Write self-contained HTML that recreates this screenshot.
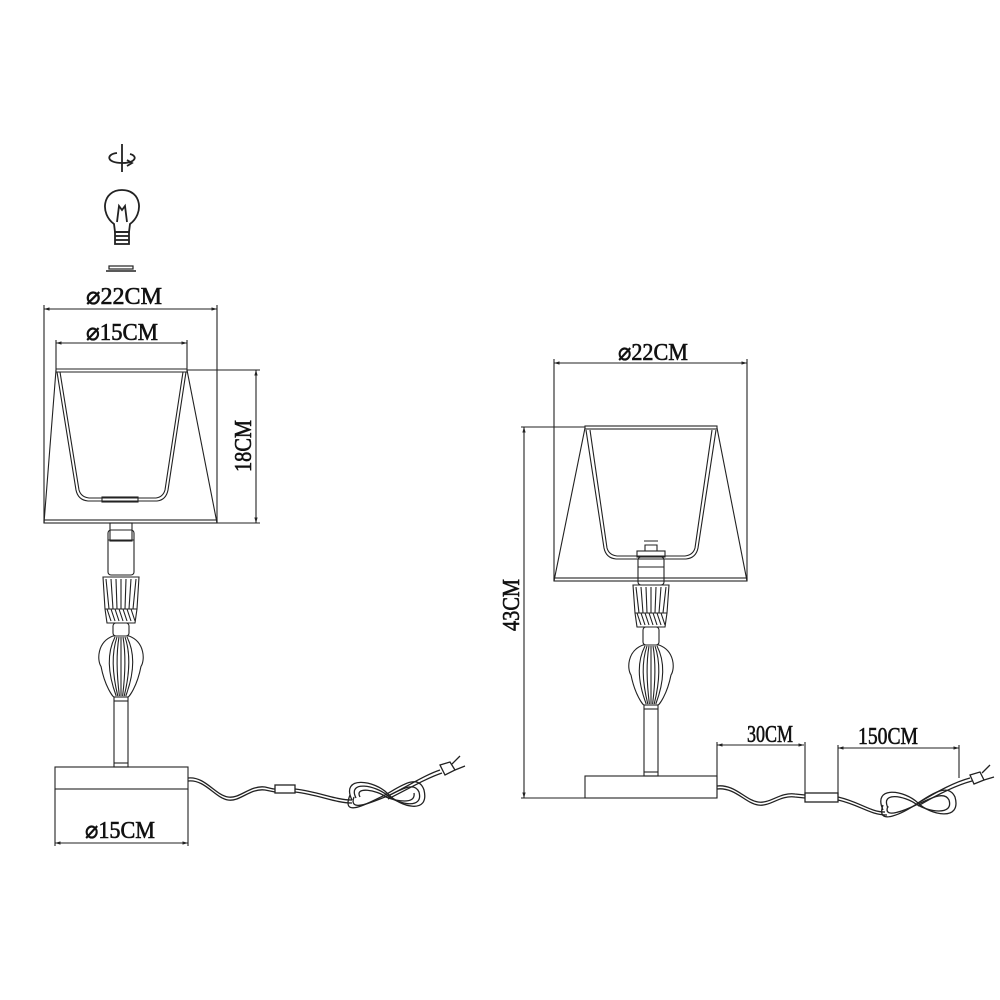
<!DOCTYPE html>
<html><head><meta charset="utf-8"><style>
html,body{margin:0;padding:0;background:#fff;width:1000px;height:1000px;overflow:hidden}
svg text{font-family:"Liberation Serif",serif;font-size:24px;fill:#111;stroke:#111;stroke-width:0.6}
</style></head><body>
<svg id="s" width="1000" height="1000" viewBox="0 0 1000 1000" xmlns="http://www.w3.org/2000/svg" fill="none" stroke="#222" stroke-width="1.1">
<defs>
<marker id="a" viewBox="0 0 10 10" refX="10" refY="5" markerWidth="7" markerHeight="5" orient="auto-start-reverse"><path d="M0,2 L10,5 L0,8z" fill="#222" stroke="none"/></marker>
</defs>
<g stroke-width="1.8">
<line x1="122" y1="144" x2="122" y2="172"/>
<path d="M117,153 C106,154 106,163 122,163 C136,163 138,156 130,154"/>
<path d="M127,160 l5,3 -5,3" />
<path d="M114,224 C100,214 102,190 122,190 C142,190 144,214 130,224 L129,232 L115,232 Z"/>
<path d="M117,222 L119,206 L122,210 L125,206 L127,222"/>
<rect x="115" y="232" width="14" height="12"/>
<line x1="115" y1="236" x2="129" y2="236"/><line x1="115" y1="240" x2="129" y2="240"/>
<rect x="109" y="266" width="24" height="3" stroke-width="1.2"/>
<line x1="106" y1="271" x2="136" y2="271" stroke-width="1.6"/>
</g>
<line x1="44" y1="309" x2="217" y2="309" marker-start="url(#a)" marker-end="url(#a)"/>
<line x1="44" y1="305" x2="44" y2="523"/><line x1="217" y1="305" x2="217" y2="523"/>
<text x="124" y="304" text-anchor="middle" textLength="76" lengthAdjust="spacingAndGlyphs">⌀22CM</text>
<line x1="56" y1="343" x2="187" y2="343" marker-start="url(#a)" marker-end="url(#a)"/>
<line x1="56" y1="340" x2="56" y2="372"/><line x1="187" y1="340" x2="187" y2="372"/>
<text x="122" y="340" text-anchor="middle" textLength="72" lengthAdjust="spacingAndGlyphs">⌀15CM</text>
<line x1="187" y1="370" x2="260" y2="370"/><line x1="217" y1="523" x2="260" y2="523"/>
<line x1="256" y1="370" x2="256" y2="523" marker-start="url(#a)" marker-end="url(#a)"/>
<text transform="translate(251,446) rotate(-90)" text-anchor="middle" textLength="52" lengthAdjust="spacingAndGlyphs">18CM</text>
<rect x="56" y="369" width="131" height="3" stroke-width="1"/>
<path d="M56,370 L44,523 M187,370 L217,523"/>
<rect x="44" y="520" width="173" height="3"/>
<path d="M57,372 L76,490 Q78,500 88,501 L157,501 Q166,500 168,490 L186,372"/>
<path d="M60,372 L79,490 Q81,497 89,498 L156,498 Q163,497 165,490 L183,372"/>
<rect x="102" y="497" width="36" height="5"/>
<rect x="55" y="767" width="133" height="22"/>
<line x1="55" y1="789" x2="55" y2="846"/><line x1="188" y1="789" x2="188" y2="846"/>
<line x1="55" y1="843" x2="188" y2="843" marker-start="url(#a)" marker-end="url(#a)"/>
<text x="120" y="838" text-anchor="middle" textLength="70" lengthAdjust="spacingAndGlyphs">⌀15CM</text>
<g stroke-width="1.3">
<path d="M188,778 C205,776 215,795 228,797 C240,799 250,785 265,787 C270,788 272,789 275,789"/>
<path d="M188,781 C205,779 215,798 228,800 C240,802 250,788 265,790 L275,792"/>
<rect x="275" y="785" width="20" height="8"/>
<path d="M295,789 C320,792 335,800 352,800 M295,792 C320,795 335,803 352,803"/>
<path d="M352,800 C340,775 375,780 388,794 C400,807 430,815 424,790 C418,772 398,788 385,795 C370,802 340,820 350,795"/>
<path d="M356,798 C347,780 376,785 388,796 C398,804 424,810 419,792 C414,780 398,792 385,797 C372,802 348,813 354,797"/>
<path d="M360,797 C354,786 377,790 386,797 C396,801 416,805 414,793"/>
<path d="M388,796 C410,785 425,775 440,770 M388,799 C410,788 427,778 442,773"/>
<path d="M440,765 L450,762 L455,770 L445,775 Z"/>
<path d="M452,764 L460,756 M455,770 L465,766"/>
</g>
<line x1="554" y1="363" x2="747" y2="363" marker-start="url(#a)" marker-end="url(#a)"/>
<line x1="554" y1="359" x2="554" y2="581"/><line x1="747" y1="359" x2="747" y2="581"/>
<text x="653" y="360" text-anchor="middle" textLength="70" lengthAdjust="spacingAndGlyphs">⌀22CM</text>
<line x1="521" y1="427" x2="585" y2="427"/>
<line x1="524" y1="427" x2="524" y2="798" marker-start="url(#a)" marker-end="url(#a)"/>
<line x1="521" y1="798" x2="717" y2="798"/>
<text transform="translate(519,605) rotate(-90)" text-anchor="middle" textLength="52" lengthAdjust="spacingAndGlyphs">43CM</text>
<rect x="585" y="426" width="132" height="3"/>
<path d="M585,428 L554,581 M717,428 L747,581"/>
<rect x="554" y="578" width="193" height="3"/>
<path d="M586,430 L604,548 Q606,558 616,559 L686,559 Q696,558 698,548 L716,430"/>
<path d="M590,430 L607,548 Q609,555 617,556 L685,556 Q693,555 695,548 L712,430"/>
<line x1="717" y1="745" x2="804" y2="745" marker-start="url(#a)" marker-end="url(#a)"/>
<line x1="717" y1="742" x2="717" y2="798"/><line x1="805" y1="742" x2="805" y2="795"/>
<text x="770" y="742" text-anchor="middle" textLength="46" lengthAdjust="spacingAndGlyphs">30CM</text>
<line x1="838" y1="748" x2="959" y2="748" marker-start="url(#a)" marker-end="url(#a)"/>
<line x1="838" y1="745" x2="838" y2="795"/><line x1="959" y1="745" x2="959" y2="778"/>
<text x="888" y="744" text-anchor="middle" textLength="60" lengthAdjust="spacingAndGlyphs">150CM</text>
<rect x="585" y="776" width="132" height="22"/>
<g stroke-width="1.3">
<path d="M717,786 C735,784 745,800 758,802 C770,804 780,792 795,794 L805,795"/>
<path d="M717,789 C735,787 745,803 758,805 C770,807 780,795 795,797 L805,798"/>
<rect x="805" y="793" width="33" height="9"/>
<path d="M838,797 C860,802 870,812 885,812 M838,800 C860,805 870,815 887,815"/>
<path d="M883,810 C872,785 905,790 918,803 C930,815 962,822 955,797 C948,782 930,795 918,803 C905,812 875,828 883,805"/>
<path d="M888,808 C880,791 905,796 916,804 C928,812 954,816 949,800 C944,790 928,800 918,804 C906,810 882,820 888,806"/>
<path d="M918,803 C940,790 955,782 970,778 M918,806 C940,793 957,785 972,781"/>
<path d="M970,775 L980,772 L984,780 L974,784 Z"/>
<path d="M982,773 L990,765 M984,780 L994,777"/>
</g>
<g id="lamps"></g>
</svg>
<script>
var g=document.getElementById('lamps'),h='';
function lamp(c,sockTop,sockBot,up0,up1,ring1,bul1,stem1){
 h+='<rect x="'+(c-13)+'" y="'+sockTop+'" width="26" height="'+(sockBot-sockTop)+'" rx="3"/>';
 h+='<line x1="'+(c-13)+'" y1="'+(sockTop+10)+'" x2="'+(c+13)+'" y2="'+(sockTop+10)+'"/>';
 var w0=18,w1=14;
 h+='<path d="M'+(c-w0)+','+up0+' L'+(c+w0)+','+up0+' L'+(c+w0-2)+','+(up1-14)+' L'+(c+w1)+','+up1+' L'+(c-w1)+','+up1+' L'+(c-w0+2)+','+(up1-14)+' Z"/>';
 h+='<line x1="'+(c-w0+2)+'" y1="'+(up1-14)+'" x2="'+(c+w0-2)+'" y2="'+(up1-14)+'"/>';
 for(var i=-3;i<=3;i++){h+='<line x1="'+(c+i*5)+'" y1="'+(up0+2)+'" x2="'+(c+i*4)+'" y2="'+(up1-14)+'"/>';}
 for(var i=-3;i<=3;i++){h+='<line x1="'+(c+i*4-2)+'" y1="'+(up1-14)+'" x2="'+(c+i*4+2)+'" y2="'+(up1-2)+'"/>';}
 h+='<rect x="'+(c-8)+'" y="'+up1+'" width="16" height="'+(ring1-up1)+'" rx="3"/>';
 var m=ring1+(bul1-ring1)*0.4;
 h+='<path d="M'+(c-8)+','+ring1+' C'+(c-24)+','+(ring1+6)+' '+(c-24)+','+m+' '+(c-20)+','+(m+6)+' C'+(c-16)+','+(bul1-10)+' '+(c-8)+','+bul1+' '+(c-7)+','+bul1+' L'+(c+7)+','+bul1+' C'+(c+8)+','+bul1+' '+(c+16)+','+(bul1-10)+' '+(c+20)+','+(m+6)+' C'+(c+24)+','+m+' '+(c+24)+','+(ring1+6)+' '+(c+8)+','+ring1+' Z"/>';
 for(var i=-3;i<=3;i++){h+='<path d="M'+(c+i*2)+','+(ring1+1)+' Q'+(c+i*6)+','+m+' '+(c+i*1.6)+','+(bul1-1)+'"/>';}
 h+='<rect x="'+(c-7)+'" y="'+bul1+'" width="14" height="'+(stem1-bul1)+'"/>';
 h+='<line x1="'+(c-7)+'" y1="'+(bul1+4)+'" x2="'+(c+7)+'" y2="'+(bul1+4)+'"/>';
 h+='<line x1="'+(c-7)+'" y1="'+(stem1-4)+'" x2="'+(c+7)+'" y2="'+(stem1-4)+'"/>';
}
lamp(121,530,575,577,623,636,697,767);
lamp(651,557,585,585,627,645,705,776);
h+='<rect x="637" y="551" width="28" height="6"/><path d="M645,551 l0,-6 l12,0 l0,6 M644,541 l14,0"/>';
h+='<rect x="110" y="523" width="22" height="18"/>';
g.innerHTML=h;
</script>
</body></html>
